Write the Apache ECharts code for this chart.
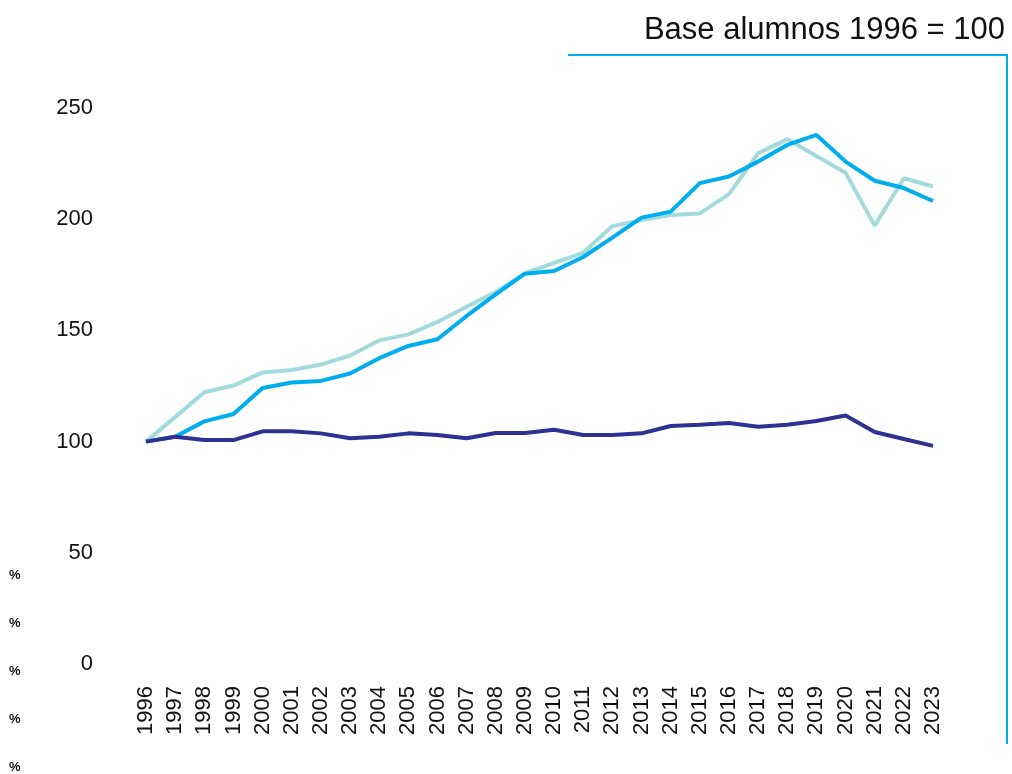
<html>

<head>
    <script src="https://cdn.jsdelivr.net/npm/echarts@6/dist/echarts.min.js"></script>
</head>
<style>
    body {
        margin: 0;
        background: #fff;
    }

    #chart {
        width: 1012px;
        height: 774px;
    }
</style>

<body>
    <div id="chart"></div>
    <script>
        const years = ['1996', '1997', '1998', '1999', '2000', '2001', '2002', '2003', '2004', '2005',
            '2006', '2007', '2008', '2009', '2010', '2011', '2012', '2013', '2014', '2015',
            '2016', '2017', '2018', '2019', '2020', '2021', '2022', '2023']

        // light teal series
        const tealValues = [100, 111, 122.2, 125.2, 131.1, 132.2, 134.6, 138.7, 145.5, 148.2,
            153.8, 160.6, 167.3, 175.6, 180.4, 184.9, 196.9, 199.6, 201.9, 202.6,
            211.3, 229.6, 236, 228.4, 220.9, 197.1, 218.4, 214.7]

        // bright blue series
        const blueValues = [100, 102.2, 109.1, 112.4, 124.1, 126.6, 127.3, 130.6, 137.5, 143,
            146, 156.5, 166.2, 175.5, 176.7, 183, 191.7, 200.7, 203.4, 216.2,
            219.2, 225.9, 233.4, 237.9, 225.9, 217.3, 214, 208.2]

        // dark navy series
        const navyValues = [100, 102.2, 100.7, 100.7, 104.6, 104.6, 103.7, 101.5, 102.2, 103.7,
            103, 101.5, 103.9, 103.9, 105.3, 103, 103, 103.7, 107, 107.6,
            108.4, 106.7, 107.6, 109.3, 111.7, 104.3, 101.2, 98.1]

        const yTicks = [0, 50, 100, 150, 200, 250]
        const pctMarks = ['%', '%', '%', '%', '%']
        const titleText = 'Base alumnos 1996 = 100'

        const chart = echarts.init(document.getElementById('chart'))

        function line(name, data, color, z) {
            return {
                name: name,
                type: 'line',
                data: data,
                symbol: 'none',
                z: z,
                lineStyle: { color: color, width: 4 }
            }
        }

        // the stray "%" marks down the left side
        const pctGraphics = pctMarks.map(function (t, i) {
            return {
                type: 'text',
                left: 9,
                top: 564 + i * 48,
                style: { text: t, font: 'bold 13px "Liberation Sans"', fill: '#111' }
            }
        })

        const option = {
            animation: false,
            grid: { left: 146, right: 79, top: 108, bottom: 110 },
            xAxis: {
                type: 'category',
                data: years,
                boundaryGap: false,
                axisLine: { show: false },
                axisTick: { show: false },
                axisLabel: {
                    interval: 0,
                    rotate: 90,
                    margin: 22,
                    fontFamily: 'Liberation Sans',
                    fontSize: 22,
                    color: '#111'
                }
            },
            yAxis: {
                type: 'value',
                min: yTicks[0],
                max: yTicks[yTicks.length - 1],
                interval: 50,
                splitLine: { show: false },
                axisLine: { show: false },
                axisTick: { show: false },
                axisLabel: {
                    margin: 53,
                    fontFamily: 'Liberation Sans',
                    fontSize: 22,
                    color: '#111'
                }
            },
            series: [
                line('teal', tealValues, '#a3dadc', 2),
                line('blue', blueValues, '#00aeef', 3),
                line('navy', navyValues, '#2e3192', 4)
            ],
            graphic: [
                {
                    type: 'text',
                    right: 7,
                    top: 4,
                    style: { text: titleText, font: '31px "Liberation Sans"', fill: '#111' }
                },
                {
                    type: 'polyline',
                    shape: { points: [[568, 55], [1007, 55], [1007, 744]] },
                    style: { stroke: '#00aeef', lineWidth: 2, fill: null }
                }
            ].concat(pctGraphics)
        }

        chart.setOption(option)
    </script>
</body>

</html>
